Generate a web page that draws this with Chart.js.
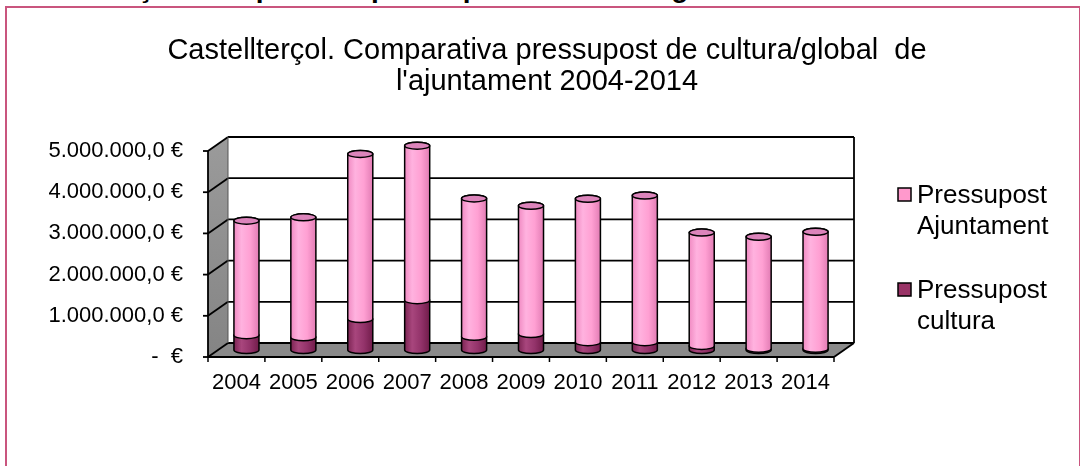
<!DOCTYPE html>
<html>
<head>
<meta charset="utf-8">
<script src="https://cdn.jsdelivr.net/npm/chart.js@4.4.1/dist/chart.umd.min.js"></script>
<style>
  body { margin: 0; background: #fff; width: 1080px; height: 466px; overflow: hidden; position: relative; font-family: "Liberation Sans", Arial, sans-serif; }
  #cutTitle { position: absolute; left: 10px; top: -26px; font-weight: bold; font-size: 28px; line-height: 28px; white-space: nowrap; color: #000; }
  #box { position: absolute; left: 5px; top: 6px; width: 1072px; height: 480px; border: 2px solid #c9557e; }
  #myChart { position: absolute; left: 0; top: 0; }
</style>
</head>
<body>
<div id="cutTitle">Castellterçol. Comparativa pressupost de cultura/global 2004-2014</div>
<div id="box"></div>
<canvas id="myChart" width="1080" height="466"></canvas>
<script>
const years = ['2004', '2005', '2006', '2007', '2008', '2009', '2010', '2011', '2012', '2013', '2014'];
const cultura = [360000, 310000, 750000, 1210000, 320000, 390000, 190000, 190000, 100000, 30000, 30000];
const ajuntament = [2780000, 2910000, 4010000, 3750000, 3360000, 3110000, 3480000, 3560000, 2750000, 2720000, 2840000];
const yTicks = [0, 1000000, 2000000, 3000000, 4000000, 5000000];
const yTickLabels = [' -  €', '1.000.000,0 €', '2.000.000,0 €', '3.000.000,0 €', '4.000.000,0 €', '5.000.000,0 €'];
const titleLines = ["Castellterçol. Comparativa pressupost de cultura/global  de", "l'ajuntament 2004-2014"];

// depth offset of the 3D box (half depth)
const DX = 10, DY = 7;

const line = (ctx, x1, y1, x2, y2) => {
    ctx.beginPath();
    ctx.moveTo(x1, y1);
    ctx.lineTo(x2, y2);
    ctx.stroke();
};

const frame3d = {
    id: 'frame3d',
    beforeDatasetsDraw(chart) {
        const { ctx, chartArea: a, scales: { x, y } } = chart;
        const L = a.left, R = a.right;
        const y0 = y.getPixelForValue(0);
        const yMax = y.getPixelForValue(yTicks[yTicks.length - 1]);
        ctx.save();
        // back wall
        ctx.fillStyle = '#ffffff';
        ctx.fillRect(L + DX, yMax - DY, R - L, y0 - yMax);
        // left wall
        const wg = ctx.createLinearGradient(0, yMax, 0, y0);
        wg.addColorStop(0, '#9a9a9a');
        wg.addColorStop(1, '#858585');
        ctx.fillStyle = wg;
        ctx.beginPath();
        ctx.moveTo(L - DX, y0 + DY);
        ctx.lineTo(L - DX, yMax + DY);
        ctx.lineTo(L + DX, yMax - DY);
        ctx.lineTo(L + DX, y0 - DY);
        ctx.closePath();
        ctx.fill();
        // floor
        ctx.fillStyle = '#8a8a8a';
        ctx.beginPath();
        ctx.moveTo(L - DX, y0 + DY);
        ctx.lineTo(R - DX, y0 + DY);
        ctx.lineTo(R + DX, y0 - DY);
        ctx.lineTo(L + DX, y0 - DY);
        ctx.closePath();
        ctx.fill();
        // grid lines
        ctx.strokeStyle = '#000';
        ctx.lineWidth = 1.8;
        yTicks.forEach(v => {
            const p = y.getPixelForValue(v);
            line(ctx, L - DX, p + DY, L + DX, p - DY);
            line(ctx, L + DX, p - DY, R + DX, p - DY);
            line(ctx, L - DX - 5, p + DY, L - DX, p + DY);
        });
        line(ctx, R + DX, yMax - DY, R + DX, y0 - DY);
        line(ctx, L - DX, y0 + DY, L - DX, yMax + DY);
        line(ctx, L - DX, y0 + DY, R - DX, y0 + DY);
        line(ctx, R - DX, y0 + DY, R + DX, y0 - DY);
        ctx.lineWidth = 1;
        ctx.strokeStyle = '#555';
        line(ctx, L + DX, yMax - DY, L + DX, y0 - DY);
        // category ticks
        ctx.strokeStyle = '#000';
        ctx.lineWidth = 1.5;
        const w = (R - L) / years.length;
        for (let i = 0; i <= years.length; i++) {
            const bx = L + i * w - DX;
            line(ctx, bx, y0 + DY, bx, y0 + DY + 5);
        }
        ctx.restore();
    },
    afterDatasetsDraw(chart) {
        const { ctx } = chart;
        const metas = [chart.getDatasetMeta(0), chart.getDatasetMeta(1)];
        const ry = 3.5;
        const styles = [
            { stops: ['#7c2453', '#a8467d', '#93336a', '#711c4a'], top: '#a0407a' },
            { stops: ['#f08ac2', '#ffb2df', '#ffa0d3', '#e27cb4'], top: '#dc84bb' }
        ];
        ctx.save();
        ctx.strokeStyle = '#000';
        ctx.lineWidth = 1.5;
        years.forEach((yr, j) => {
            metas.forEach((meta, d) => {
                const bar = meta.data[j];
                const r = bar.width / 2;
                const cx = bar.x, yT = bar.y, yB = bar.base;
                const g = ctx.createLinearGradient(cx - r, 0, cx + r, 0);
                const st = styles[d].stops;
                g.addColorStop(0, st[0]);
                g.addColorStop(0.3, st[1]);
                g.addColorStop(0.65, st[2]);
                g.addColorStop(1, st[3]);
                ctx.fillStyle = g;
                ctx.beginPath();
                ctx.moveTo(cx - r, yT);
                ctx.lineTo(cx - r, yB);
                ctx.ellipse(cx, yB, r, ry, 0, Math.PI, 0, true);
                ctx.lineTo(cx + r, yT);
                ctx.ellipse(cx, yT, r, ry, 0, 0, Math.PI, true);
                ctx.closePath();
                ctx.fill();
                ctx.stroke();
                if (d === metas.length - 1) {
                    ctx.fillStyle = styles[d].top;
                    ctx.beginPath();
                    ctx.ellipse(cx, yT, r, ry, 0, 0, Math.PI * 2);
                    ctx.fill();
                    ctx.stroke();
                }
            });
        });
        ctx.restore();
    },
    afterDraw(chart) {
        const { ctx } = chart;
        ctx.save();
        ctx.fillStyle = '#000';
        // title
        ctx.font = '29px "Liberation Sans", Arial, sans-serif';
        ctx.textAlign = 'center';
        ctx.textBaseline = 'alphabetic';
        titleLines.forEach((t, i) => ctx.fillText(t, 547, 59 + i * 31));
        // legend (reverse order, like the stack)
        ctx.font = '26px "Liberation Sans", Arial, sans-serif';
        ctx.textAlign = 'left';
        const ds = chart.data.datasets.slice().reverse();
        ds.forEach((d, i) => {
            const top = 188 + i * 95;
            ctx.fillStyle = d.backgroundColor;
            ctx.fillRect(898, top, 13, 13);
            ctx.strokeStyle = '#000';
            ctx.lineWidth = 1.5;
            ctx.strokeRect(898, top, 13, 13);
            ctx.fillStyle = '#000';
            d.label.split(' ').forEach((word, k) => ctx.fillText(word, 917, top + 15 + k * 31));
        });
        ctx.restore();
    }
};

const ctx = document.getElementById('myChart');
const chart = new Chart(ctx, {
    type: 'bar',
    data: {
        labels: years,
        datasets: [{
            label: 'Pressupost cultura',
            data: cultura,
            backgroundColor: '#993366',
            borderWidth: 0
        }, {
            label: 'Pressupost Ajuntament',
            data: ajuntament,
            backgroundColor: '#ff99cc',
            borderWidth: 0
        }]
    },
    options: {
        responsive: false,
        animation: false,
        devicePixelRatio: 1,
        categoryPercentage: 1,
        barPercentage: 0.44,
        layout: {
            padding: { left: 14, right: 236, top: 144, bottom: 76 }
        },
        plugins: {
            legend: { display: false },
            title: { display: false },
            tooltip: { enabled: false }
        },
        scales: {
            x: {
                stacked: true,
                grid: { display: false, drawTicks: false },
                border: { display: false },
                ticks: {
                    color: '#000',
                    font: { size: 22, family: '"Liberation Sans", Arial, sans-serif' },
                    padding: 20,
                    labelOffset: -DX,
                    maxRotation: 0,
                    autoSkip: false
                },
                afterFit(scale) { scale.height = 40; }
            },
            y: {
                stacked: true,
                min: 0,
                max: 5000000,
                grid: { display: false, drawTicks: false },
                border: { display: false },
                afterBuildTicks(scale) { scale.ticks = yTicks.map(v => ({ value: v })); },
                ticks: {
                    color: '#000',
                    font: { size: 22, family: '"Liberation Sans", Arial, sans-serif' },
                    padding: 35,
                    labelOffset: DY,
                    callback: (value, index) => yTickLabels[index]
                },
                afterFit(scale) { scale.width = 204; }
            }
        }
    },
    plugins: [frame3d]
});
</script>
</body>
</html>
